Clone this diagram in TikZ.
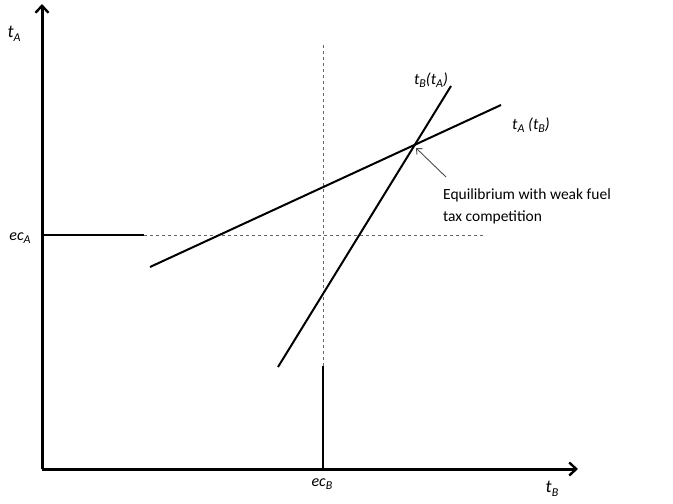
\documentclass[tikz,border=0pt]{standalone}
\usepackage{fontspec}
\setmainfont{Carlito}
\usetikzlibrary{arrows.meta}
\newcommand\lsub[1]{\raisebox{-0.45ex}{\fontsize{12}{12}\selectfont #1}}
\begin{document}
\begin{tikzpicture}[x=1pt,y=-1pt,
  axis/.style={line width=3pt,-{Straight Barb[length=7pt,width=13pt,line width=2.4pt]}},
  curve/.style={line width=2pt},
  ecline/.style={line width=2pt},
  guide/.style={line width=0.8pt,gray!80!black,dash pattern=on 3pt off 3pt},
  lbl/.style={inner sep=0pt,font=\fontsize{16}{18}\selectfont\itshape},
  note/.style={inner sep=0pt,anchor=west,font=\fontsize{15.5}{18}\selectfont}]
\useasboundingbox (0,0) rectangle (673,504);
% axes
\coordinate (O) at (42,469);
\coordinate (Ytop) at (42,4);
\coordinate (Xend) at (578,469);
\draw[axis] (O) -- (Ytop);
\draw[axis] (O) -- (Xend);
\node[lbl,font=\fontsize{18}{20}\selectfont\itshape] (tA) at (14,34) {t\lsub{A}};
\node[lbl,font=\fontsize{18}{20}\selectfont\itshape] (tB) at (552,489) {t\lsub{B}};
% ec_A
\coordinate (ecAstart) at (42,235);
\coordinate (ecAmid) at (144,235);
\coordinate (ecAend) at (484,235);
\draw[ecline] (ecAstart) -- (ecAmid);
\draw[guide] (ecAmid) -- (ecAend);
\node[lbl] (ecA) at (20,238) {ec\lsub{A}};
% ec_B
\coordinate (ecBbot) at (323,469);
\coordinate (ecBmid) at (323,366);
\coordinate (ecBtop) at (323,45);
\draw[ecline] (ecBbot) -- (ecBmid);
\draw[guide] (ecBmid) -- (ecBtop);
\node[lbl] (ecB) at (322,484) {ec\lsub{B}};
% reaction functions
\coordinate (a1) at (150,267);
\coordinate (a2) at (501,105);
\coordinate (b1) at (278,367);
\coordinate (b2) at (451,86);
\draw[curve] (a1) -- (a2);
\draw[curve] (b1) -- (b2);
\node[lbl] (tBtA) at (431,80) {t\lsub{B}(t\lsub{A})};
\node[lbl] (tAtB) at (531,125) {t\lsub{A} (t\lsub{B})};
% equilibrium annotation
\coordinate (eq) at (416,148);
\coordinate (arrstart) at (446,177);
\draw[line width=0.9pt,gray!60!black,-{Straight Barb[length=4.5pt,width=8pt]}] (arrstart) -- (eq);
\node[note] (n1) at (443,195) {Equilibrium with weak fuel};
\node[note] (n2) at (443,217) {tax competition};
\end{tikzpicture}
\end{document}
